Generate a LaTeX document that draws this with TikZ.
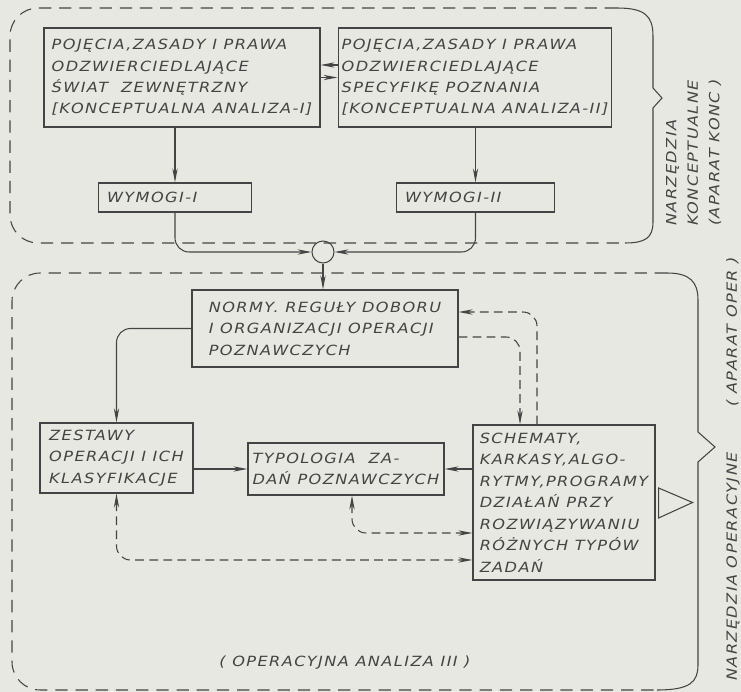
\documentclass[tikz,border=0pt]{standalone}
\usepackage{fontspec}
\newfontfamily\lett[LetterSpace=10, FakeStretch=1.15]{DejaVu Sans}
\usepackage{tikz}
\usetikzlibrary{arrows.meta, positioning, calc}
\definecolor{paper}{RGB}{232,232,226}
\definecolor{ink}{RGB}{68,68,68}

\begin{document}
\begin{tikzpicture}[
  x=0.02cm, y=-0.02cm,
  box/.style={draw=ink, line width=0.7pt, align=left, inner xsep=2pt, inner ysep=2pt,
    text=ink, font=\lett\itshape\fontsize{8}{12.2}\selectfont},
  lbl/.style={text=ink, font=\lett\itshape\fontsize{8}{12.2}\selectfont},
  link/.style={draw=ink, line width=0.6pt, rounded corners=8pt, -{Stealth[length=8pt,width=3pt]}},
  dlink/.style={link, dash pattern=on 5pt off 3pt},
  dboth/.style={dlink, {Stealth[length=8pt,width=3pt]}-{Stealth[length=8pt,width=3pt]}},
  region/.style={draw=ink, line width=0.6pt, dash pattern=on 7pt off 4.5pt, rounded corners=16pt},
  brace/.style={draw=ink, line width=0.6pt},
]
\fill[paper] (0,0) rectangle (741,692);
\useasboundingbox (0,0) rectangle (741,692);

% aparat konceptualny
\draw[region] (617,8) -- (10,8) -- (10,243) -- (625,243);
\draw[brace] (617,8) .. controls (645,8) and (653,16) .. (653,36) -- (653,88) -- (662,98)
  -- (653,108) -- (653,222) .. controls (653,238) and (645,243) .. (625,243);
\node[lbl, rotate=90, anchor=north west, align=left] (KT) at (660,232)
  {NARZĘDZIA\\KONCEPTUALNE\\(APARAT KONC )};

\node[box, minimum width=5.52cm, minimum height=1.98cm] (K1) at (182,77.5)
  {POJĘCIA,ZASADY I PRAWA\\ODZWIERCIEDLAJĄCE\\ŚWIAT \ ZEWNĘTRZNY\\{[}KONCEPTUALNA ANALIZA-I]};
\node[box, minimum width=5.4cm, minimum height=1.98cm] (K2) at (475,77.5)
  {POJĘCIA,ZASADY I PRAWA\\ODZWIERCIEDLAJĄCE\\SPECYFIKĘ POZNANIA\\{[}KONCEPTUALNA ANALIZA-II]};
\node[box, text width=2.72cm, inner xsep=5pt, minimum height=0.58cm] (W1) at (175,197.5) {WYMOGI-I};
\node[box, text width=2.82cm, inner xsep=5pt, minimum height=0.58cm] (W2) at (475.5,197.5) {WYMOGI-II};
\node[circle, draw=ink, line width=0.6pt, minimum size=0.44cm, inner sep=0pt] (O) at (323,252) {};

% aparat operacyjny
\draw[region] (667,273) -- (12,273) -- (12,690) -- (657,690);
\draw[brace] (667,273) .. controls (690,273) and (698,282) .. (698,300) -- (698,432) -- (715,447)
  -- (698,462) -- (698,665) .. controls (698,682) and (690,690) .. (657,690);
\node[lbl, rotate=90, anchor=west] (OT) at (733,687)
  {NARZĘDZIA OPERACYJNE\hspace{26pt}( APARAT OPER )};
\node[lbl] (OA) at (345,663) {( OPERACYJNA ANALIZA III )};

\node[box, minimum width=5.32cm, minimum height=1.54cm] (N) at (325,328.5)
  {NORMY. REGUŁY DOBORU\\I ORGANIZACJI OPERACJI\\POZNAWCZYCH};
\node[box, minimum width=3.06cm, minimum height=1.4cm] (Z) at (116.5,458)
  {ZESTAWY\\OPERACJI I ICH\\KLASYFIKACJE};
\node[box, minimum width=3.92cm, minimum height=1.04cm] (T) at (346,469)
  {TYPOLOGIA \ ZA-\\DAŃ POZNAWCZYCH};
\node[box, minimum width=3.64cm, minimum height=3.1cm] (S) at (564,502.5)
  {SCHEMATY,\\KARKASY,ALGO-\\RYTMY,PROGRAMY\\DZIAŁAŃ PRZY\\ROZWIĄZYWANIU\\RÓŻNYCH TYPÓW\\ZADAŃ};

\draw[link] (W1.north |- K1.south) -- (W1.north);
\draw[link] (W2.north |- K2.south) -- (W2.north);
\draw[link] ([yshift=0.25cm]K2.west) -- ([yshift=0.25cm]K1.east);
\draw[dlink] (K1.east) -- (K1.east -| K2.west);
\draw[link] (W1.south) |- (O.west);
\draw[link] (W2.south) |- (O.east);
\draw[link] (O.south) -- (O.south |- N.north);
\draw[link] (N.west) -| (Z.north);
\draw[link] (Z.east |- T.west) -- (T.west);
\draw[link] (S.west |- T.east) -- (T.east);
\draw[dlink] ([xshift=-0.54cm]S.north) |- ([yshift=0.33cm]N.east);
\draw[dlink] ([yshift=-0.17cm]N.east) -| ([xshift=-0.88cm]S.north);
\draw[dboth] ([xshift=0.12cm]T.south) |- ([yshift=-0.61cm]S.west);
\draw[dboth] (Z.south) |- ([yshift=-1.15cm]S.west);
\draw[brace] ([xshift=0.06cm,yshift=0.29cm]S.east) -- ([xshift=0.74cm]S.east)
  -- ([xshift=0.06cm,yshift=-0.31cm]S.east) -- cycle;
\end{tikzpicture}
\end{document}
